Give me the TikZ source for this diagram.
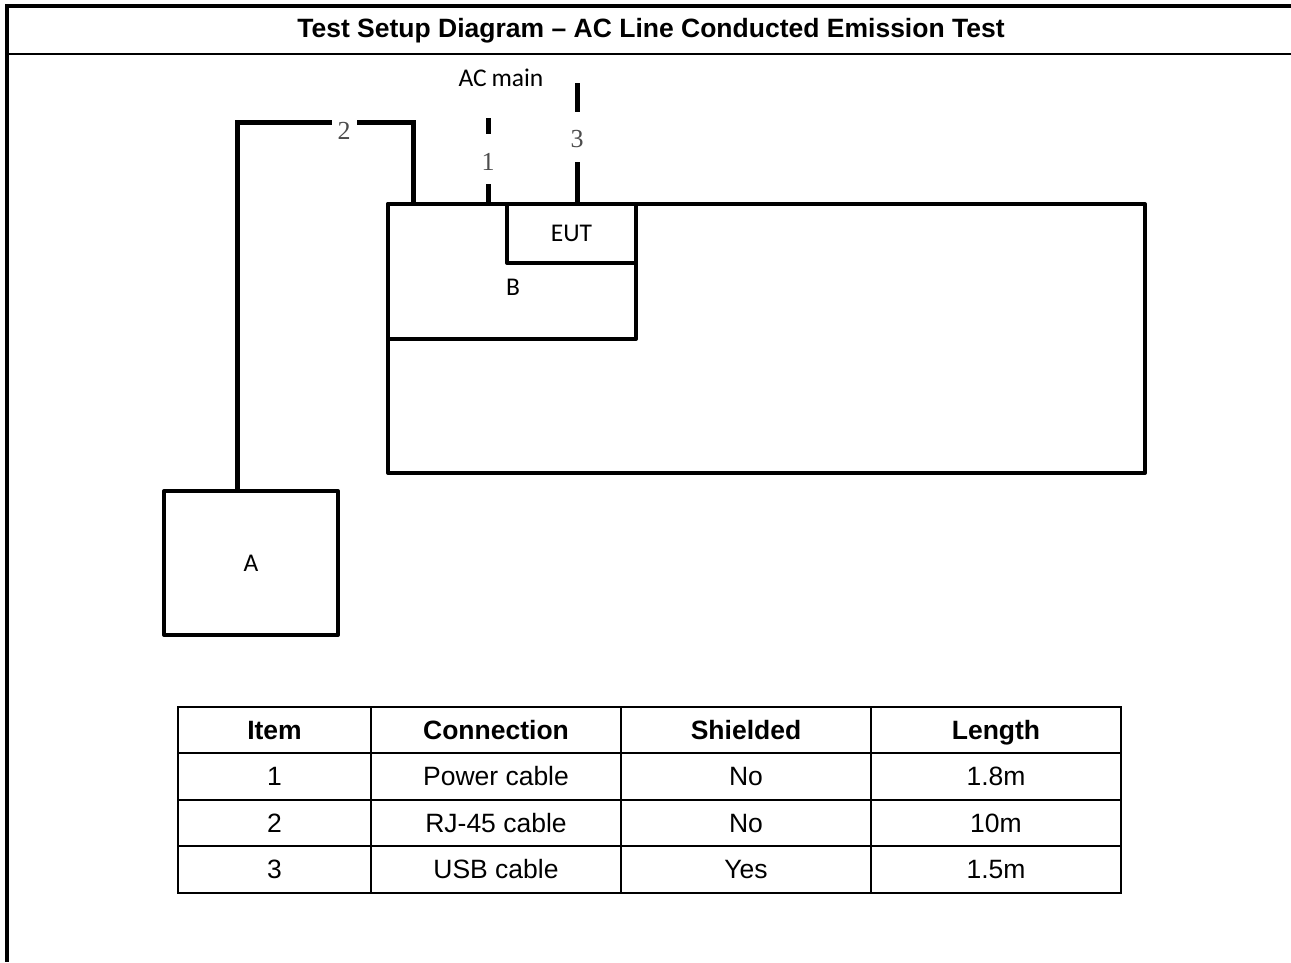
\documentclass[tikz,border=0pt]{standalone}
\usepackage{fontspec}
\setmainfont{Liberation Sans}
\newfontfamily\calfont{Carlito}
\newfontfamily\numfont{Liberation Serif}
\begin{document}
\begin{tikzpicture}[x=1pt,y=-1pt,
  frame/.style={line width=4pt},
  thinframe/.style={line width=2pt},
  box/.style={draw,line width=4pt,line join=round,anchor=north west,inner sep=0pt,outer sep=0pt},
  cable/.style={line width=5pt},
  lbl/.style={font=\calfont\fontsize{25.5}{30}\selectfont,inner sep=0pt},
  num/.style={font=\numfont\fontsize{26}{30}\selectfont,text=black!70,inner sep=0pt},
  cell/.style={draw,line width=2pt,inner sep=0pt,minimum height=46.5pt,text height=21pt,text depth=3pt,font=\fontsize{26.5}{30}\selectfont},
  hcell/.style={cell,font=\bfseries\fontsize{26.5}{30}\selectfont},
  titlestyle/.style={font=\bfseries\fontsize{26.5}{30}\selectfont,inner sep=0pt}
]
\useasboundingbox (0,0) rectangle (1291,962);
% outer frame
\draw[frame] (5,6) -- (1291,6);
\draw[frame] (7,4) -- (7,962);
\draw[thinframe] (5,54) -- (1291,54);
\node[titlestyle] (title) at (651,31) {Test Setup Diagram -- AC Line Conducted Emission Test};

% boxes
\node[box,minimum width=757pt,minimum height=269pt] (bench) at (388,204) {};
\node[box,minimum width=248pt,minimum height=135pt] (B) at (388,204) {};
\node[box,minimum width=129pt,minimum height=59pt,lbl] (EUT) at (507,204) {EUT};
\node[lbl] (Blbl) at (513,287) {B};
\node[box,minimum width=174pt,minimum height=144pt,lbl] (A) at (164,491) {A};

% cable 2
\coordinate (c2a) at (237,122);
\coordinate (c2l) at (332,122);
\coordinate (c2r) at (357,122);
\coordinate (c2b) at (413,122);
\draw[cable,line join=miter] (A.north -| c2a) -- (c2a) -- (c2l);
\draw[cable,line join=miter] (c2r) -- (c2b) -- (c2b |- bench.north);
\node[num] (n2) at (344,131) {2};

% cable 1
\coordinate (c1t) at (488,118);
\coordinate (c1m) at (488,134);
\coordinate (c1n) at (488,184);
\draw[cable] (c1t) -- (c1m);
\draw[cable] (c1n) -- (c1n |- bench.north);
\node[num] (n1) at (488,162) {1};

% cable 3
\coordinate (c3t) at (577,83);
\coordinate (c3m) at (577,112);
\coordinate (c3n) at (577,162);
\draw[cable] (c3t) -- (c3m);
\draw[cable] (c3n) -- (c3n |- bench.north);
\node[num] (n3) at (577,139) {3};

\node[lbl] (acmain) at (501,78) {AC\hspace{-1pt} main};

% table
\node[hcell,minimum width=193pt] (h1) at (274.5,730) {Item};
\node[hcell,minimum width=250pt] (h2) at (496,730) {Connection};
\node[hcell,minimum width=250pt] (h3) at (746,730) {Shielded};
\node[hcell,minimum width=250pt] (h4) at (996,730) {Length};

\node[cell,minimum width=193pt] (r1c1) at (274.5,776.5) {1};
\node[cell,minimum width=250pt] (r1c2) at (496,776.5) {Power cable};
\node[cell,minimum width=250pt] (r1c3) at (746,776.5) {No};
\node[cell,minimum width=250pt] (r1c4) at (996,776.5) {1.8m};

\node[cell,minimum width=193pt] (r2c1) at (274.5,823) {2};
\node[cell,minimum width=250pt] (r2c2) at (496,823) {RJ-45 cable};
\node[cell,minimum width=250pt] (r2c3) at (746,823) {No};
\node[cell,minimum width=250pt] (r2c4) at (996,823) {10m};

\node[cell,minimum width=193pt] (r3c1) at (274.5,869.5) {3};
\node[cell,minimum width=250pt] (r3c2) at (496,869.5) {USB cable};
\node[cell,minimum width=250pt] (r3c3) at (746,869.5) {Yes};
\node[cell,minimum width=250pt] (r3c4) at (996,869.5) {1.5m};
\end{tikzpicture}
\end{document}
